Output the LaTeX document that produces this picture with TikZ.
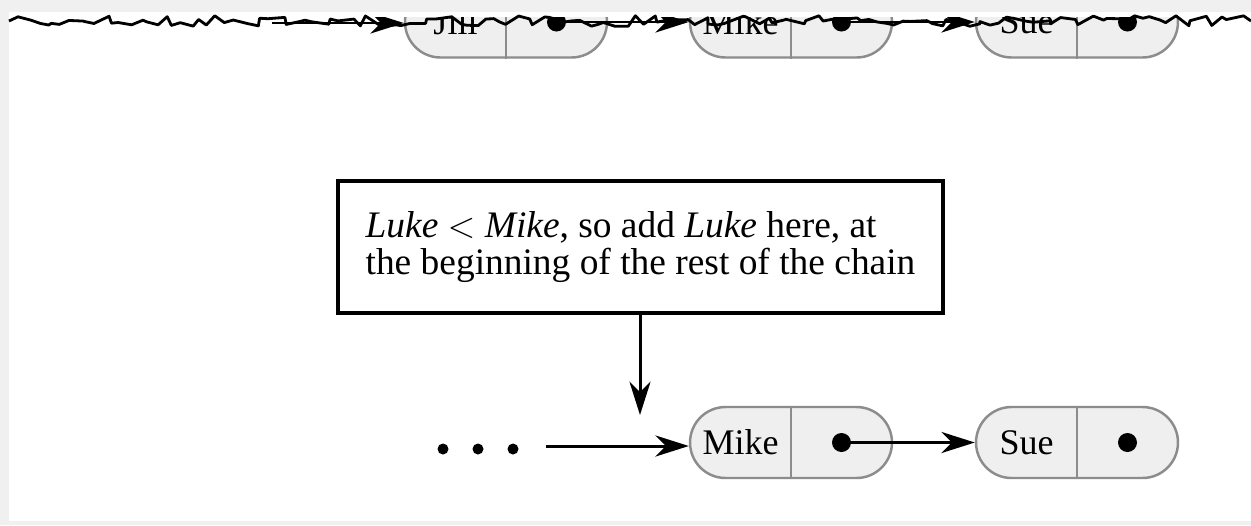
\documentclass[tikz,border=0pt]{standalone}
\usepackage{fontspec}
\setmainfont{Liberation Serif}
\usetikzlibrary{arrows.meta,shapes.misc,decorations.pathmorphing}

\definecolor{pagegray}{HTML}{F0F0F0}
\definecolor{nodefill}{HTML}{EFEFEF}
\definecolor{nodeline}{HTML}{8C8C8C}

\newcommand{\bigtext}{\fontsize{20.5}{21}\selectfont}
\newcommand{\notetext}{\fontsize{21.3}{21}\selectfont}

\tikzset{
	chainnode/.style={rounded rectangle, draw=nodeline, fill=nodefill, line width=1.4pt,
		minimum width=4.04cm, minimum height=1.42cm, inner sep=0pt},
	link/.style={-{Stealth[length=19pt,width=12pt,inset=6pt]}, line width=1.7pt},
	notebox/.style={draw, line width=2pt, minimum width=12.1cm, inner ysep=0pt,
		minimum height=2.64cm, align=left, font=\notetext},
	torn/.style={decorate, decoration={random steps, segment length=5pt, amplitude=3pt},
		line width=1.6pt, line join=round}
}

% one node of the chain: name, position, data
\newcommand{\chainpart}[3]{%
	\node[chainnode] (#1) at (#2) {};
	\draw[nodeline, line width=1.4pt] (#1.north) -- (#1.south);
	\node[font=\bigtext, inner sep=0pt] (#1-data) at ([xshift=-1.01cm]#1.center) {#3};
	\coordinate (#1-link) at ([xshift=1.01cm]#1.center);
	\fill (#1-link) circle (0.19cm);
}

\begin{document}
\begin{tikzpicture}[x=0.02cm, y=-0.02cm]
	\useasboundingbox (0,0) rectangle (1251,525);
	\fill[pagegray] (0,0) rectangle (1251,525);
	\fill[white] (9,12) rectangle (1251,521);

	% torn off top of the chain
	\begin{scope}
	\clip (9,17) rectangle (1251,100);
	\chainpart{jill}{506,22}{Jill}
	\chainpart{mikeup}{791,22}{Mike}
	\chainpart{sueup}{1077,22}{Sue}
	\coordinate (head) at (272,23);
	\draw[link] (head) -- (head -| jill.west);
	\draw[link] (jill-link) -- (mikeup.west);
	\draw[link] (mikeup-link) -- (sueup.west);
	\end{scope}
	\draw[torn] (9,21) -- (1251,21);

	% the note
	\node[notebox] (note) at (640.5,247)
		{\textit{Luke} $<$ \textit{Mike}, so add \textit{Luke} here, at\\
		 the beginning of the rest of the chain};
	\coordinate (here) at (640,415);
	\draw[link] (note.south -| here) -- (here);

	% rest of the chain
	\chainpart{mike}{791,442.5}{Mike}
	\chainpart{sue}{1077,442.5}{Sue}
	\foreach \x in {443,478,513}
		\fill (\x,449) circle (0.11cm);
	\coordinate (rest) at (546,446);
	\draw[link] (rest) -- (rest -| mike.west);
	\draw[link] (mike-link) -- (sue.west);
\end{tikzpicture}
\end{document}
